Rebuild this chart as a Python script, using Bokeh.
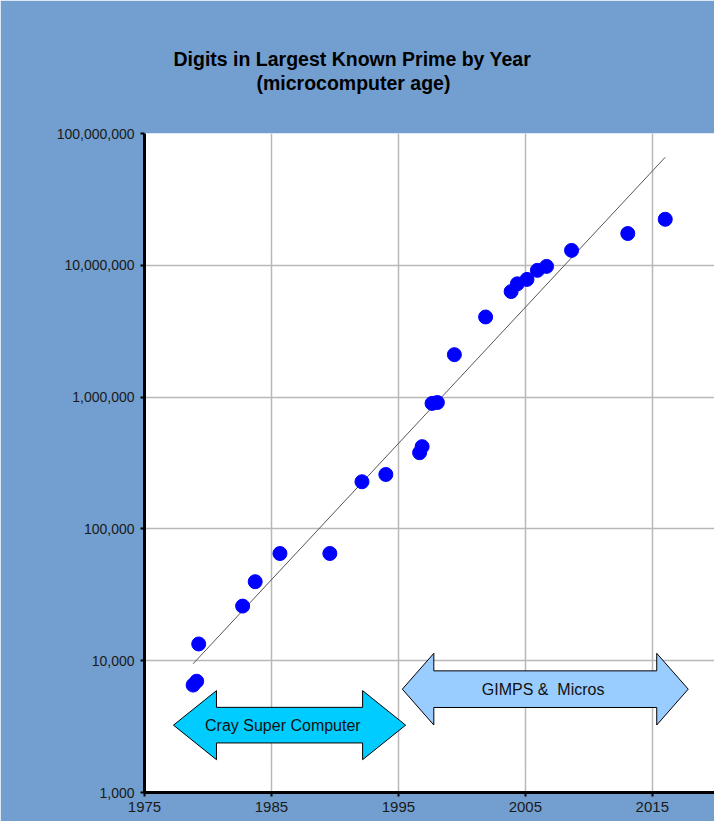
import numpy as np
from bokeh.plotting import figure
from bokeh.models import FixedTicker, NumeralTickFormatter, Title, Range1d
from bokeh.core.properties import value
from bokeh.embed import file_html
from bokeh.resources import INLINE

# ---- data (discovery date as fractional year, number of digits) ----
years = [1978.83, 1979.11, 1979.27, 1982.73, 1983.72, 1985.67, 1989.60,
         1992.13, 1994.01, 1996.67, 1996.87, 1997.65, 1998.07, 1999.41,
         2001.87, 2003.88, 2004.37, 2005.13, 2005.95, 2006.67, 2008.64,
         2013.07, 2016.02]
digits = [6533, 6987, 13395, 25962, 39751, 65050, 65087,
          227832, 258716, 378632, 420921, 895932, 909526, 2098960,
          4053946, 6320430, 7235733, 7816230, 9152052, 9808358, 12978189,
          17425170, 22338618]

x_ticks = [1975, 1985, 1995, 2005, 2015]
y_ticks = [1e3, 1e4, 1e5, 1e6, 1e7, 1e8]

title_lines = ["Digits in Largest Known Prime by Year", "(microcomputer age)"]

# era arrows: start year, end year, head length (years), centre (log10 digits),
# head half-height and shaft half-height (decades), label position (year)
era_names = ["Cray Super Computer", "GIMPS &\u00a0 Micros"]
era_start = [1977.28, 1995.31]
era_end = [1995.57, 2017.83]
era_head = [3.39, 2.48]
era_center = [3.511, 3.784]
era_head_half = [0.262, 0.272]
era_shaft_half = [0.135, 0.139]
era_label_x = [1985.9, 2006.4]
era_colors = ["#00ccff", "#99ccff"]

FONT = "Liberation Sans"

p = figure(width=714, height=821, y_axis_type="log",
           x_range=Range1d(1975, 2019.9), y_range=Range1d(1e3, 1e8),
           output_backend="svg", toolbar_location=None,
           min_border_left=144, min_border_right=0,
           min_border_top=133, min_border_bottom=29)
p.border_fill_color = "#729fcf"
p.background_fill_color = "white"
p.outline_line_color = None

# axes
p.xaxis.ticker = FixedTicker(ticks=x_ticks)
p.yaxis.ticker = FixedTicker(ticks=y_ticks)
p.yaxis.formatter = NumeralTickFormatter(format="0,0")
for ax in (p.xaxis, p.yaxis):
    ax.axis_line_color = "black"
    ax.axis_line_width = 3
    ax.major_tick_line_color = "black"
    ax.major_tick_line_width = 2
    ax.major_tick_in = 0
    ax.major_tick_out = 4
    ax.minor_tick_line_color = None
    ax.major_label_text_font = FONT
    ax.major_label_text_color = "#1a1a1a"
p.xaxis.major_label_text_font_size = "15px"
p.yaxis.major_label_text_font_size = "14px"
p.xaxis.major_label_standoff = 5
p.yaxis.major_label_standoff = 6

p.xgrid.ticker = FixedTicker(ticks=x_ticks)
p.ygrid.ticker = FixedTicker(ticks=y_ticks)
for g in (p.xgrid, p.ygrid):
    g.grid_line_color = "#b8b8b8"
    g.grid_line_width = 1.5
p.ygrid.minor_grid_line_color = None

# trend line (exponential least-squares fit)
lx = np.array(years)
ly = np.log10(np.array(digits))
k, b = np.polyfit(lx, ly, 1)
tx = [lx.min(), lx.max()]
ty = [10 ** (k * t + b) for t in tx]
p.line(tx, ty, line_color="#555555", line_width=1)

# points
p.scatter(years, digits, size=14, fill_color="#0000ff", line_color="#0000ff")

# era arrows
for name, x0, x1, hl, yc, hh, sh, lxp, col in zip(era_names, era_start, era_end, era_head,
                                                  era_center, era_head_half, era_shaft_half,
                                                  era_label_x, era_colors):
    xs = [x0, x0 + hl, x0 + hl, x1 - hl, x1 - hl, x1, x1 - hl, x1 - hl, x0 + hl, x0 + hl]
    ls = [yc, yc + hh, yc + sh, yc + sh, yc + hh, yc, yc - hh, yc - sh, yc - sh, yc - hh]
    p.patch(xs, [10 ** v for v in ls], fill_color=col, line_color="black", line_width=1)
    p.text(x=[lxp], y=[10 ** yc], text=[name], text_align="center",
           text_baseline="middle", text_font=value(FONT), text_font_size="16px",
           text_color="#111111")

# title: spacer, then the two lines stacked upward
p.add_layout(Title(text=" ", text_font_size="1px", standoff=37), "above")
p.add_layout(Title(text=title_lines[1], align="left", offset=112, standoff=0,
                   text_font=FONT, text_font_size="19.5px", text_font_style="bold",
                   text_color="black"), "above")
p.add_layout(Title(text=title_lines[0], align="left", offset=29, standoff=0,
                   text_font=FONT, text_font_size="19.5px", text_font_style="bold",
                   text_color="black"), "above")

open("out.html", "w").write(file_html(p, INLINE))
